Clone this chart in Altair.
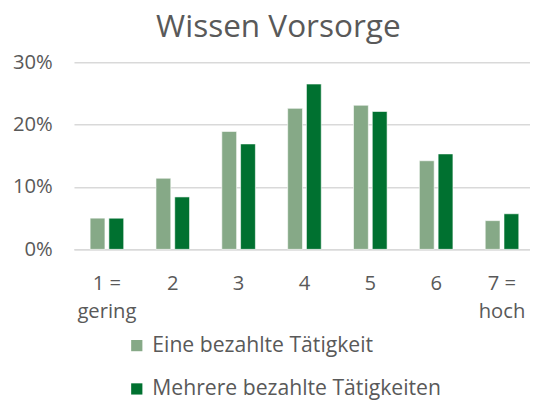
import altair as alt
import pandas as pd

categories = ["1 = gering", "2", "3", "4", "5", "6", "7 = hoch"]
series_names = ["Eine bezahlte Tätigkeit", "Mehrere bezahlte Tätigkeiten"]
eine = [0.050, 0.114, 0.189, 0.226, 0.231, 0.142, 0.046]
mehrere = [0.050, 0.084, 0.169, 0.265, 0.221, 0.153, 0.057]
colors = ["#86A987", "#007130"]

rows = []
for c, a, b in zip(categories, eine, mehrere):
    rows.append({"cat": c, "series": series_names[0], "value": a})
    rows.append({"cat": c, "series": series_names[1], "value": b})
df = pd.DataFrame(rows)

FONT = "Open Sans"
GREY = "#595959"

label_expr = ("indexof(datum.value, ' = ') > 0 ? "
              "[split(datum.value, ' = ')[0] + ' =', split(datum.value, ' = ')[1]] : datum.value")

chart = alt.Chart(df).mark_bar(stroke="white", strokeWidth=1, strokeOpacity=0.6).encode(
    x=alt.X("cat:N", sort=categories,
            scale=alt.Scale(range=[0, 468], paddingInner=0.49, paddingOuter=0.245),
            axis=alt.Axis(title=None, labelAngle=0, labelExpr=label_expr,
                          labelFontSize=20.5, labelFont=FONT, labelColor=GREY,
                          labelLineHeight=28, labelPadding=25, ticks=False,
                          domainColor="#D9D9D9", domainWidth=1.5, labelBaseline="top")),
    xOffset=alt.XOffset("series:N", sort=series_names,
                        scale=alt.Scale(paddingInner=0.21, paddingOuter=0)),
    y=alt.Y("value:Q", scale=alt.Scale(domain=[0, 0.3], nice=False),
            axis=alt.Axis(title=None, format=".0%", values=[0, 0.1, 0.2, 0.3],
                          labelFontSize=20.5, labelFont=FONT, labelColor=GREY,
                          labelPadding=22, ticks=False, domain=False,
                          gridColor="#D9D9D9", gridWidth=1.5)),
    color=alt.Color("series:N", sort=series_names,
                    scale=alt.Scale(domain=series_names, range=colors),
                    legend=alt.Legend(title=None, orient="none", legendX=53, legendY=277,
                                      direction="vertical", symbolType="square",
                                      symbolSize=130, symbolStrokeWidth=0,
                                      labelFontSize=21.5, labelFont=FONT, labelColor=GREY,
                                      labelOffset=5, rowPadding=21, labelLimit=400)),
).properties(
    width=463,
    height=190,
    title=alt.TitleParams("Wissen Vorsorge", fontSize=32, font=FONT, color=GREY,
                          fontWeight="normal", anchor="middle", dx=-24, offset=9),
    autosize=alt.AutoSizeParams(type="none"),
    padding={"left": 67, "top": 52, "right": 0, "bottom": 153},
).configure_view(stroke=None)

chart.save("out.html", embed_options={"renderer": "svg", "actions": False})
